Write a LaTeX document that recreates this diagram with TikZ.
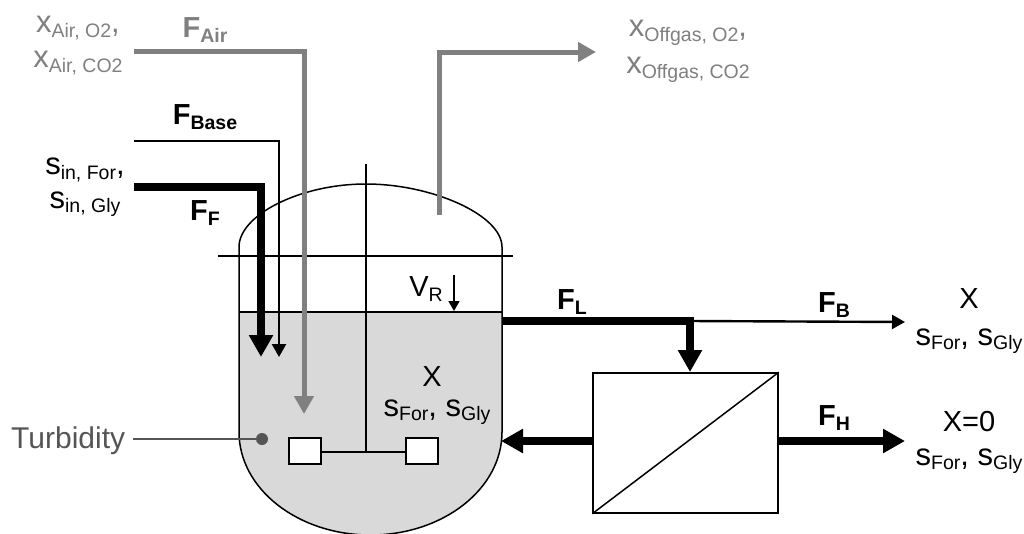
\documentclass[tikz,border=0pt]{standalone}
\usepackage{fontspec}
\setmainfont{Liberation Sans}
\usetikzlibrary{arrows.meta}
\definecolor{gr}{RGB}{128,128,128}
\definecolor{dk}{RGB}{85,85,85}
\definecolor{liq}{RGB}{217,217,217}
\newcommand{\mainsz}{\fontsize{29}{32}\selectfont}
\newcommand{\lcsz}{\fontsize{31}{32}\selectfont}
\newcommand{\subsz}{\fontsize{19.5}{22}\selectfont}
\tikzset{x=1pt,y=-1pt,
 lab/.style={inner sep=0pt,font=\mainsz},
 lcl/.style={inner sep=0pt,font=\lcsz},
 bold/.style={inner sep=0pt,font=\bfseries\mainsz},
 thinflow/.style={draw=black,line width=2.4pt,-{Triangle[length=13pt,width=14pt]}},
 medflow/.style={draw=black,line width=7.5pt,-{Triangle[length=22pt,width=23pt]}},
 grflow/.style={draw=gr,line width=5pt,-{Triangle[length=18pt,width=19pt]}},
 vline/.style={draw=black,line width=1.5pt},
 imp/.style={draw=black,fill=white,line width=1.5pt}}
\newcommand{\subs}[1]{\raisebox{-4.5pt}{\subsz #1}}
\begin{document}
\begin{tikzpicture}
\useasboundingbox (0,0) rectangle (1024,533);
\fill[white] (0,0) rectangle (1024,533);
% liquid
\fill[liq] (239,312) -- (502,312) -- (502,432) arc[start angle=0,end angle=180,x radius=131.5,y radius=103] -- cycle;
% vessel
\draw[vline] (239,432) -- (239,247) .. controls (239,215) and (300,184) .. (366,184) .. controls (432,184) and (502,215) .. (502,247) -- (502,432);
\draw[vline] (239,432) arc[start angle=180,end angle=0,x radius=131.5,y radius=103];
\draw[vline] (239,312) -- (502,312);
\draw[vline] (218,256) -- (513,256);
\coordinate (shafttop) at (366,164);
\coordinate (shaftbot) at (366,452);
\draw[vline] (shafttop) -- (shaftbot);
\node[imp,minimum width=32pt,minimum height=26pt,inner sep=0pt] (impl) at (305,451) {};
\node[imp,minimum width=32pt,minimum height=26pt,inner sep=0pt] (impr) at (422,451) {};
\draw[vline] (impl.east |- shaftbot) -- (impr.west |- shaftbot);
% air
\coordinate (airs) at (134,51); \coordinate (aire) at (304,414);
\draw[grflow] (airs) -| (aire);
% offgas
\coordinate (offs) at (439,215); \coordinate (offe) at (596,52);
\draw[grflow] (offs) |- (offe);
% base
\coordinate (bs) at (134,141); \coordinate (be) at (279,357);
\draw[thinflow] (bs) -| (be);
% feed
\coordinate (fs) at (134,187); \coordinate (fe) at (261,357);
\draw[medflow] (fs) -| (fe);
% membrane
\node[vline,minimum width=185pt,minimum height=140pt,inner sep=0pt] (mem) at (685.5,443) {};
\draw[vline] (mem.south west) -- (mem.north east);
% FL
\coordinate (ls) at (502,321); \coordinate (lj) at (690,321);
\coordinate (be2) at (905,322);
\draw[thinflow] (lj) -- (be2);
\draw[line width=7.5pt] (ls) -- (694,321);
\draw[medflow] (690,318) -- (690,372);
% FH
\coordinate (he) at (905,441);
\draw[medflow] (mem.east |- he) -- (he);
% return
\coordinate (re) at (501,441);
\draw[medflow] (mem.west |- re) -- (re);
% VR
\node[lab] (vr) at (426,289) {V\subs{R}};
\coordinate (vra) at (454,275); \coordinate (vrb) at (454,311);
\draw[line width=1.5pt,-{Triangle[length=10pt,width=11pt]}] (vra) -- (vrb);
% turbidity
\node[lab,text=dk,font=\fontsize{30}{32}\selectfont,anchor=west] (turb) at (11,441) {Turbidity};
\node[circle,fill=dk,inner sep=0pt,minimum size=12pt] (dot) at (262,439) {};
\draw[dk,line width=2.2pt] (133,439) -- (dot);
% labels
\node[lcl,text=gr] (xa1) at (78,28) {x\subs{Air, O2},};
\node[lcl,text=gr] (xa2) at (78,63) {x\subs{Air, CO2}};
\node[bold,text=gr] (fair) at (205,30) {F\subs{Air}};
\node[lcl,text=gr] (xo1) at (688,33) {x\subs{Offgas, O2},};
\node[lcl,text=gr] (xo2) at (688,70) {x\subs{Offgas, CO2}};
\node[bold] (fb) at (205,117) {F\subs{Base}};
\node[lcl] (s1) at (85,170) {s\subs{in, For},};
\node[lcl] (s2) at (85,204) {s\subs{in, Gly}};
\node[bold] (ff) at (205,213) {F\subs{F}};
\node[bold] (fl) at (572,302) {F\subs{L}};
\node[bold] (fbb) at (834,305) {F\subs{B}};
\node[bold] (fh) at (834,418) {F\subs{H}};
\node[lab] (x1) at (969,299) {X};
\node[lcl] (s3) at (969,341) {s\subs{For}, s\subs{Gly}};
\node[lab] (x2) at (969,422) {X=0};
\node[lcl] (s4) at (969,461) {s\subs{For}, s\subs{Gly}};
\node[lab] (x3) at (432,377) {X};
\node[lcl] (s5) at (437,412) {s\subs{For}, s\subs{Gly}};
\end{tikzpicture}
\end{document}
